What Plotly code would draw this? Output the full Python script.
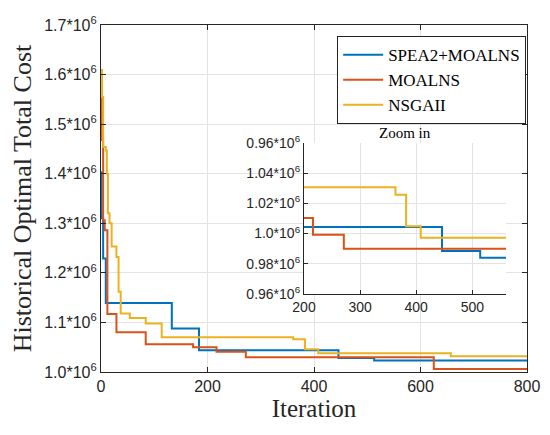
import plotly.graph_objects as go

# main plot: iteration where the best cost changes, and the cost after it
spea_iter = [0, 1, 4, 9, 133, 184, 446, 513, 800]
spea_cost = [1.403e6, 1.310e6, 1.229e6, 1.139e6, 1.088e6, 1.044e6, 1.028e6, 1.023e6, 1.023e6]

moalns_iter = [0, 2, 4, 7, 12, 29, 84, 173, 217, 272, 625, 800]
moalns_cost = [1.555e6, 1.468e6, 1.306e6, 1.286e6, 1.117e6, 1.080e6, 1.056e6,
               1.050e6, 1.041e6, 1.030e6, 1.006e6, 1.006e6]

nsga_iter = [0, 2, 4, 9, 11, 13, 16, 20, 29, 33, 37, 54, 84, 114, 361, 383, 408, 657, 800]
nsga_cost = [1.609e6, 1.555e6, 1.454e6, 1.447e6, 1.40e6, 1.32e6, 1.30e6, 1.253e6, 1.232e6,
             1.162e6, 1.118e6, 1.109e6, 1.098e6, 1.070e6, 1.066e6, 1.046e6, 1.038e6,
             1.032e6, 1.032e6]

# zoom-in panel
zoom_spea_iter = [200, 446, 514, 560]
zoom_spea_cost = [1.0044e6, 0.9884e6, 0.984e6, 0.984e6]
zoom_moalns_iter = [200, 216, 271, 560]
zoom_moalns_cost = [1.0104e6, 0.9993e6, 0.990e6, 0.990e6]
zoom_nsga_iter = [200, 363, 382, 408, 560]
zoom_nsga_cost = [1.0307e6, 1.0257e6, 1.0049e6, 0.9973e6, 0.9973e6]

main_yticks = [1.0e6, 1.1e6, 1.2e6, 1.3e6, 1.4e6, 1.5e6, 1.6e6, 1.7e6]
main_ylabels = ["1.0*10<sup>6</sup>", "1.1*10<sup>6</sup>", "1.2*10<sup>6</sup>", "1.3*10<sup>6</sup>",
                "1.4*10<sup>6</sup>", "1.5*10<sup>6</sup>", "1.6*10<sup>6</sup>", "1.7*10<sup>6</sup>"]
zoom_yticks = [0.96e6, 0.98e6, 1.0e6, 1.02e6, 1.04e6, 1.06e6]
zoom_ylabels = ["0.96*10<sup>6</sup>", "0.98*10<sup>6</sup>", "1.0*10<sup>6</sup>",
                "1.02*10<sup>6</sup>", "1.04*10<sup>6</sup>", "0.96*10<sup>6</sup>"]

BLUE = "#0072BD"
RED = "#D95319"
YEL = "#EDB120"
SERIF = "Liberation Serif"
SANS = "Liberation Sans"

fig = go.Figure()

series = [("SPEA2+MOALNS", spea_iter, spea_cost, zoom_spea_iter, zoom_spea_cost, BLUE),
          ("MOALNS", moalns_iter, moalns_cost, zoom_moalns_iter, zoom_moalns_cost, RED),
          ("NSGAII", nsga_iter, nsga_cost, zoom_nsga_iter, zoom_nsga_cost, YEL)]

for name, xi, yi, zx, zy, col in series:
    fig.add_trace(go.Scatter(x=xi, y=yi, name=name, mode="lines", line_shape="hv",
                             line=dict(color=col, width=2)))
for name, xi, yi, zx, zy, col in series:
    fig.add_trace(go.Scatter(x=zx, y=zy, name=name, mode="lines", line_shape="hv",
                             line=dict(color=col, width=2), showlegend=False,
                             xaxis="x2", yaxis="y2"))

axcol = "#262626"
gridcol = "#e3e3e3"

# page body has an 8px margin, so the figure is a bit smaller than the window
fig.update_layout(
    width=542, height=427,
    margin=dict(l=93, r=23, t=17, b=63),
    paper_bgcolor="white", plot_bgcolor="white",
    font=dict(family=SANS, size=16, color=axcol),
    xaxis=dict(domain=[0, 1], range=[0, 800], tickvals=[0, 200, 400, 600, 800],
               ticks="inside", ticklen=5, tickcolor=axcol, showline=True, linecolor=axcol,
               linewidth=1.2, mirror="ticks", showgrid=True, gridcolor=gridcol, zeroline=False,
               tickfont=dict(family=SANS, size=16), automargin=False,
               title=dict(text="Iteration", font=dict(family=SERIF, size=25), standoff=4)),
    yaxis=dict(domain=[0, 1], range=[1.0e6, 1.7e6], tickvals=main_yticks, ticktext=main_ylabels,
               ticks="inside", ticklen=5, tickcolor=axcol, showline=True, linecolor=axcol,
               linewidth=1.2, mirror="ticks", showgrid=True, gridcolor=gridcol, zeroline=False,
               tickfont=dict(family=SANS, size=16), automargin=False,
               title=dict(text="Historical Optimal Total Cost", font=dict(family=SERIF, size=26),
                          standoff=8)),
    xaxis2=dict(domain=[0.4765, 0.9507], anchor="y2", range=[200, 560],
                tickvals=[200, 300, 400, 500], ticks="inside", ticklen=4, tickcolor=axcol,
                showline=True, linecolor=axcol, linewidth=1.2, showgrid=True, gridcolor=gridcol,
                zeroline=False, tickfont=dict(family=SANS, size=14), automargin=False),
    yaxis2=dict(domain=[0.2248, 0.660], anchor="x2", range=[0.96e6, 1.06e6],
                tickvals=zoom_yticks, ticktext=zoom_ylabels, ticks="inside", ticklen=4,
                tickcolor=axcol, showline=True, linecolor=axcol, linewidth=1.2, showgrid=True,
                gridcolor=gridcol, zeroline=False, tickfont=dict(family=SANS, size=14),
                automargin=False),
    legend=dict(x=0.998, y=0.968, xanchor="right", yanchor="top", bgcolor="white",
                bordercolor="#222222", borderwidth=1, font=dict(family=SERIF, size=17, color="black"),
                tracegroupgap=0, itemwidth=40),
    annotations=[dict(text="Zoom in", xref="x2 domain", yref="y2 domain", x=0.5, y=1.0,
                      xanchor="center", yanchor="bottom", showarrow=False, yshift=0,
                      font=dict(family=SERIF, size=15, color="black"))],
)

fig.write_html("out.html")
